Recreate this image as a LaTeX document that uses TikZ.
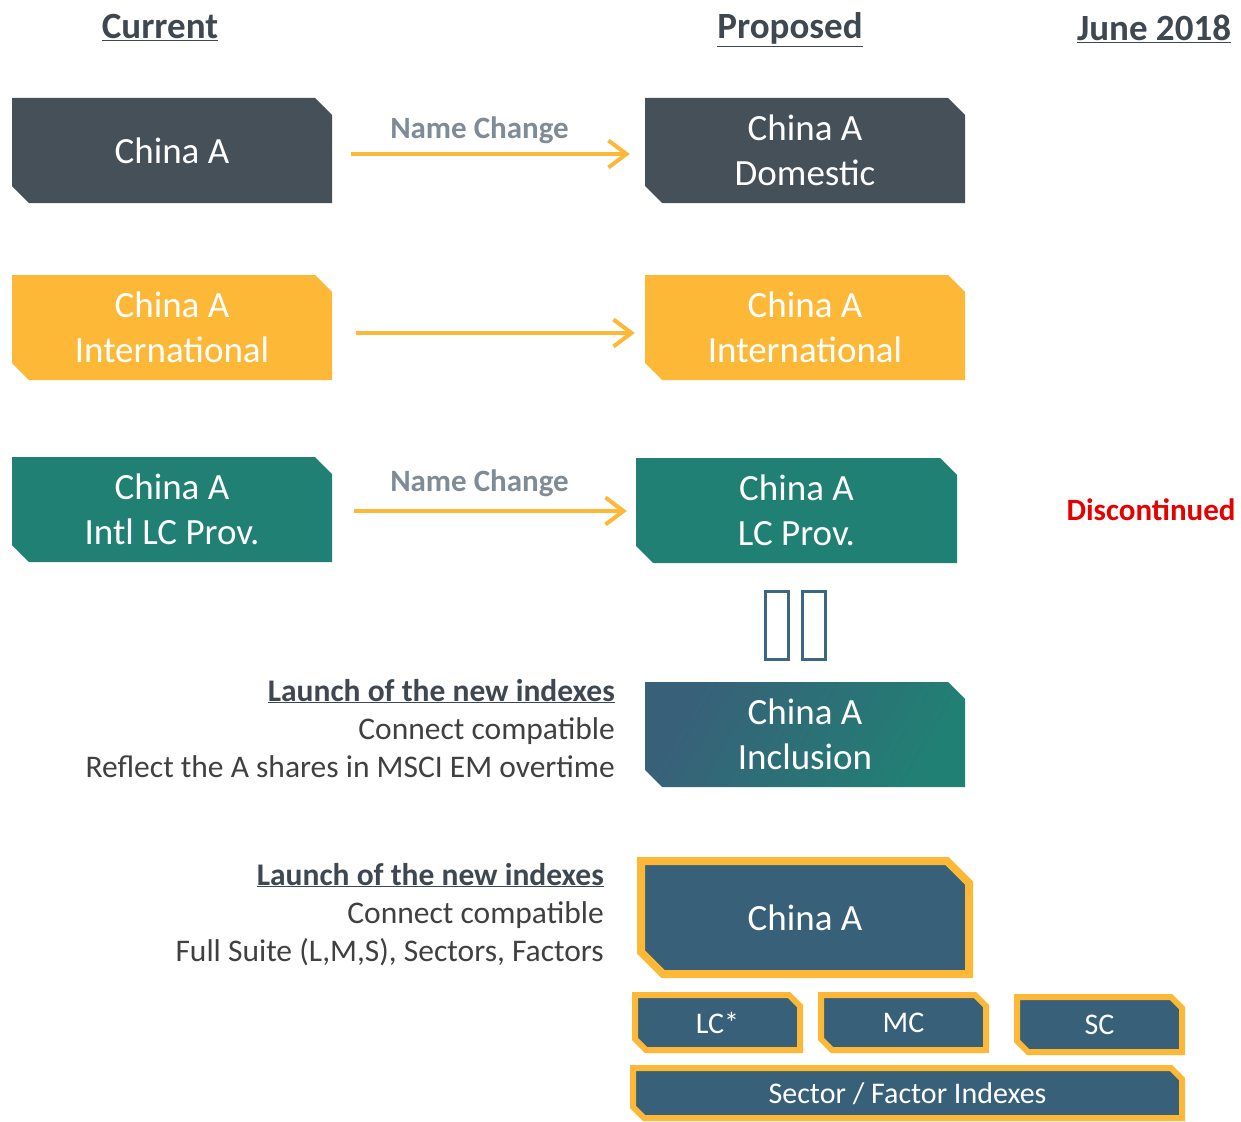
\documentclass[tikz,border=0pt]{standalone}
\usepackage{fontspec}
\setmainfont{Carlito}
\usetikzlibrary{shapes.misc,arrows.meta}
\definecolor{dgray}{HTML}{465059}
\definecolor{orng}{HTML}{FDB837}
\definecolor{mteal}{HTML}{218074}
\definecolor{sblue}{HTML}{386079}
\definecolor{ngray}{HTML}{7F8B96}
\definecolor{txt}{HTML}{404040}
\definecolor{hdr}{HTML}{3F4750}
\definecolor{dred}{HTML}{E60000}
\definecolor{tofu}{HTML}{3C6682}
\tikzset{
  box/.style={chamfered rectangle, chamfered rectangle corners={north east,south west},
    chamfered rectangle xsep=8.5pt, chamfered rectangle ysep=8.5pt, inner sep=0pt,
    minimum width=320pt, minimum height=105pt, text=white, align=center,
    font=\fontsize{37}{45}\selectfont},
  obox/.style={box, draw=orng, fill=sblue},
  sbox/.style={obox, line width=6pt, chamfered rectangle xsep=5.5pt, chamfered rectangle ysep=5.5pt,
    minimum width=165pt, minimum height=55pt, font=\fontsize{30}{36}\selectfont},
  arr/.style={draw=orng, line width=4pt, -{Straight Barb[length=18pt,width=27pt]}},
  hdrtext/.style={anchor=base, inner sep=0pt, text=hdr, font=\fontsize{37}{44}\selectfont\bfseries},
  nctext/.style={anchor=base, inner sep=0pt, text=ngray, font=\fontsize{31}{37}\selectfont\bfseries},
  lbold/.style={anchor=base east, inner sep=0pt, text=hdr, font=\fontsize{31.5}{37}\selectfont\bfseries},
  lreg/.style={anchor=base east, inner sep=0pt, text=txt, font=\fontsize{31.5}{37}\selectfont},
  tofubox/.style={draw=tofu, line width=3pt, minimum width=23pt, minimum height=68pt, inner sep=0pt}
}
\begin{document}
\begin{tikzpicture}[x=1pt,y=-1pt]
\useasboundingbox (0,0) rectangle (1241,1121);
% headers
\node[hdrtext] (hc) at (160,39) {\underline{Current}};
\node[hdrtext] (hp) at (790,39) {\underline{Proposed}};
\node[hdrtext] (hj) at (1154,41) {\underline{June 2018}};
% row 1
\node[box, fill=dgray] (c1) at (172,150.5) {China A};
\node[box, fill=dgray] (p1) at (805,150.5) {China A\\Domestic};
\draw[arr, shorten <=19pt, shorten >=15pt] ([yshift=-3.5pt]c1.east) -- ([yshift=-3.5pt]p1.west);
\node[nctext] (nc1) at (479.5,139) {Name Change};
% row 2
\node[box, fill=orng] (c2) at (172,327.5) {China A\\International};
\node[box, fill=orng] (p2) at (805,327.5) {China A\\International};
\draw[arr, shorten <=24pt, shorten >=10pt] ([yshift=-5.5pt]c2.east) -- ([yshift=-5.5pt]p2.west);
% row 3
\node[box, fill=mteal] (c3) at (172,509.5) {China A\\Intl LC Prov.};
\node[box, fill=mteal, minimum width=321pt] (p3) at (796.5,510.5) {China A\\LC Prov.};
\draw[arr, shorten <=22pt, shorten >=9pt] ([yshift=-1.5pt]c3.east) -- ([yshift=-1.5pt]c3.east -| p3.west);
\node[nctext] (nc3) at (479.5,491) {Name Change};
\node[anchor=base, inner sep=0pt, text=dred, font=\fontsize{31}{37}\selectfont\bfseries] (disc) at (1151,520) {Discontinued};
% tofu
\node[tofubox] (t1) at (776.5,625) {};
\node[tofubox] (t2) at (813.5,625) {};
% inclusion
\node[box, left color=sblue, right color=mteal, shading angle=60] (inc) at (805,734.5) {China A\\Inclusion};
\node[lbold] (l1) at (615,701) {\underline{Launch of the new indexes}};
\node[lreg] (l2) at (615,739) {Connect compatible};
\node[lreg] (l3) at (615,777) {Reflect the A shares in MSCI EM overtime};
% new suite
\node[obox, line width=8pt, chamfered rectangle xsep=11pt, chamfered rectangle ysep=11pt,
  minimum width=328pt, minimum height=113pt] (big) at (805,917.5) {China A};
\node[lbold] (m1) at (604,885) {\underline{Launch of the new indexes}};
\node[lreg] (m2) at (604,923) {Connect compatible};
\node[lreg] (m3) at (604,961) {Full Suite (L,M,S), Sectors, Factors};
\node[sbox] (lc) at (717.5,1022.5) {LC*};
\node[sbox] (mc) at (903.5,1022.5) {MC};
\node[sbox] (sc) at (1099.5,1024.5) {SC};
\node[sbox, minimum width=549pt, minimum height=50pt, text depth=0pt] (sec) at (907.5,1093) {Sector / Factor Indexes};
\end{tikzpicture}
\end{document}
